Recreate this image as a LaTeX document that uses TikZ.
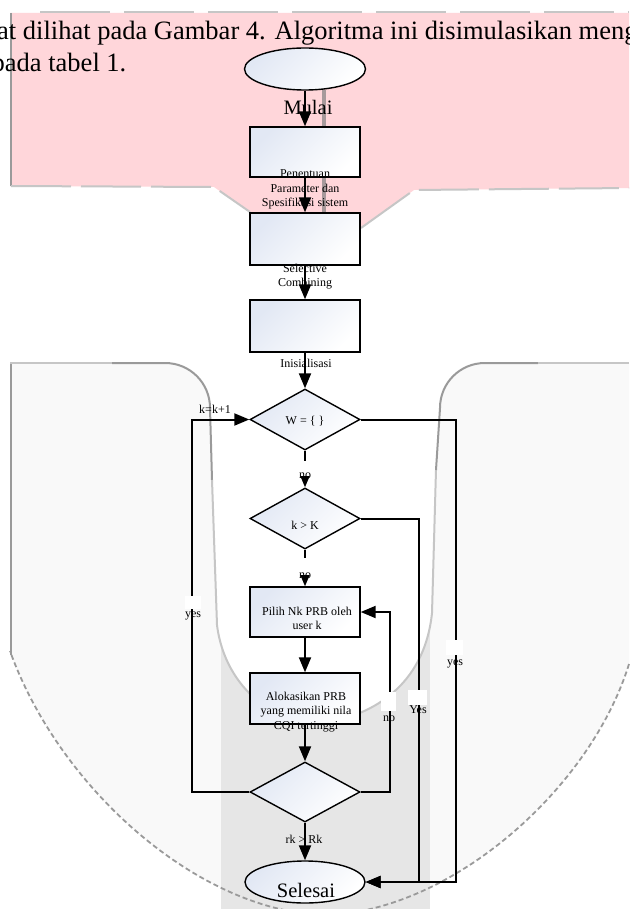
\documentclass[tikz,border=0pt]{standalone}
\usepackage{fontspec}
\setmainfont{Liberation Serif}
\usetikzlibrary{shapes.geometric, arrows.meta}
\definecolor{pinkbg}{HTML}{FFD6DA}
\definecolor{lightbg}{HTML}{F9F9F9}
\definecolor{bandbg}{HTML}{E6E6E6}
\definecolor{boxtop}{HTML}{E2E8F4}
\definecolor{edgegray}{HTML}{9A9A9A}
\begin{document}
\begin{tikzpicture}[x=1pt, y=-1pt,
  shapebase/.style={draw=black, line width=1.4pt, top color=boxtop, bottom color=white, shading angle=45, inner sep=0pt},
  procbox/.style={shapebase, rectangle, minimum width=110pt, minimum height=50pt},
  decbox/.style={shapebase, diamond, minimum width=110pt, minimum height=61pt},
  termbox/.style={shapebase, ellipse, minimum width=121pt, minimum height=42pt},
  lbl/.style={font=\fontsize{12}{14.5}\selectfont, inner sep=0pt},
  biglbl/.style={font=\fontsize{20.5}{24}\selectfont, inner sep=0pt},
  toplbl/.style={font=\fontsize{26.5}{32}\selectfont, inner sep=0pt, anchor=base west},
  flow/.style={line width=2pt, -{Triangle[length=15pt,width=12pt]}},
  bgedge/.style={draw=edgegray, line width=2pt},
  softedge/.style={draw=gray!45, line width=2pt},
]
\useasboundingbox (0,0) rectangle (629,909);
\fill[white] (0,0) rectangle (629,909);

% ---------- pink region ----------
\fill[pinkbg] (10,13) -- (629,13) -- (629,188) -- (414,190) -- (361,228) -- (306,225) -- (250,212) -- (214,187) -- (10,186) -- cycle;
\draw[softedge, dash pattern=on 70pt off 14pt] (40,12) -- (629,12);
\draw[bgedge, line width=2.5pt] (11,13) -- (11,186);
\draw[softedge, dash pattern=on 60pt off 10pt] (11,186) -- (214,187) -- (250,212);
\draw[softedge, dash pattern=on 60pt off 10pt] (361,228) -- (414,190) -- (629,188);
\draw[draw=gray!70!pinkbg, line width=3.5pt] (324,90) -- (324,213);

% ---------- light grey region ----------
\fill[lightbg] (10,363) -- (629,363) -- (629,664) .. controls (590,790) and (450,912) .. (325,915) .. controls (200,912) and (60,790) .. (10,651) -- cycle;
\fill[bandbg] (221,620) rectangle (430,909);
\fill[white] (165,363) .. controls (190,363) and (210,383) .. (210,408) -- (217,625) .. controls (225,690) and (280,730) .. (330,722) .. controls (380,712) and (425,680) .. (432,613) -- (440,408) .. controls (440,383) and (460,363) .. (485,363) -- cycle;
\draw[bgedge, line width=2.5pt] (11,363) -- (11,655);
\draw[softedge, line width=1.5pt] (10,363) -- (112,363);
\draw[bgedge] (112,363) -- (165,363) .. controls (190,363) and (210,383) .. (210,408) -- (212,480);
\draw[softedge] (212,480) -- (217,625) .. controls (225,690) and (280,730) .. (330,722) .. controls (380,712) and (425,680) .. (432,613) -- (436,470);
\draw[bgedge] (436,470) -- (440,408) .. controls (440,383) and (460,363) .. (485,363) -- (538,363);
\draw[softedge, line width=1.5pt] (538,363) -- (629,363);
\draw[bgedge, line width=1.8pt, dash pattern=on 5pt off 3pt] (629,664) .. controls (590,790) and (450,912) .. (325,915) .. controls (200,912) and (60,790) .. (10,651);

% ---------- top text ----------
\node[toplbl] (line1) at (-3,40) {at dilihat pada Gambar 4. Algoritma ini disimulasikan meng};
\node[toplbl] (line2) at (-8.5,72) {pada tabel 1.};

% ---------- flowchart shapes ----------
\node[termbox] (start) at (305,69) {};
\node[procbox] (p1) at (305,152) {};
\node[procbox, minimum height=52pt] (p2) at (305,239) {};
\node[procbox, minimum height=52pt] (p3) at (305,326) {};
\node[decbox] (d1) at (305,419.5) {};
\node[decbox] (d2) at (305,518.5) {};
\node[procbox] (p4) at (305,612) {};
\node[procbox, minimum height=51pt] (p5) at (305,698.5) {};
\node[decbox, minimum height=60pt] (d3) at (305,792) {};
\node[termbox, minimum width=120pt] (stop) at (305,882) {};

% ---------- shape texts (under the connectors) ----------
\node[biglbl, anchor=base] (tMulai) at (308,115) {Mulai};
\node[lbl, align=center, anchor=north] (tP1) at (305,169.8) {Penentuan\\Parameter dan\\Spesifikasi sistem};
\node[lbl, align=center, anchor=north] (tP2) at (305,263.8) {Selective\\Combining};
\node[lbl, anchor=base] (tP3) at (306,367) {Inisialisasi};
\node[lbl, anchor=base] (tD1) at (305,424) {W = \{ \}};
\node[lbl, anchor=base] (tD2) at (305,529) {k > K};
\node[lbl, align=center, anchor=north] (tP4) at (307,606.8) {Pilih Nk PRB oleh\\user k};
\node[lbl, align=center, anchor=north] (tP5) at (306,691.8) {Alokasikan PRB\\yang memiliki nila\\CQI tertinggi};
\node[lbl, anchor=base] (tD3) at (304,843) {rk > Rk};
\node[biglbl, anchor=base] (tSelesai) at (306,897) {Selesai};

% ---------- connectors ----------
\draw[flow] (start.south) -- (p1.north);
\draw[flow] (p1.south) -- (p2.north);
\draw[flow] (p2.south) -- (p3.north);
\draw[flow] (p3.south) -- (d1.north);
\draw[flow] (d1.south) -- (d2.north);
\draw[flow] (d2.south) -- (p4.north);
\draw[flow] (p4.south) -- (p5.north);
\draw[flow] (p5.south) -- (d3.north);
\draw[flow] (d3.south) -- (stop.north);
\draw[flow] (d3.west) -- ++(-57,0) |- (d1.west);
\draw[flow] (d3.east) -- ++(29,0) |- (p4.east);
\draw[flow] (d2.east) -- ++(58,0) |- (stop.east);
\draw[flow] (d1.east) -- ++(95,0) |- (stop.east);

% ---------- label backgrounds ----------
\fill[white] (298,461) rectangle (313,476);
\fill[white] (298,558) rectangle (313,575);
\fill[white] (185,596) rectangle (201,609);
\fill[white] (381,692) rectangle (396,711);
\fill[white] (408,690) rectangle (427,705);
\fill[white] (446,640) rectangle (463,655);

% ---------- connector labels ----------
\node[lbl, anchor=base] (lNo1) at (305,478) {no};
\node[lbl, anchor=base] (lNo2) at (305,578) {no};
\node[lbl, anchor=base] (lK) at (215,413) {k=k+1};
\node[lbl, anchor=base] (lYesL) at (193,617) {yes};
\node[lbl, anchor=base] (lNoR) at (389,721) {no};
\node[lbl, anchor=base] (lYesM) at (418,713) {Yes};
\node[lbl, anchor=base] (lYesR) at (455,665) {yes};
\end{tikzpicture}
\end{document}
